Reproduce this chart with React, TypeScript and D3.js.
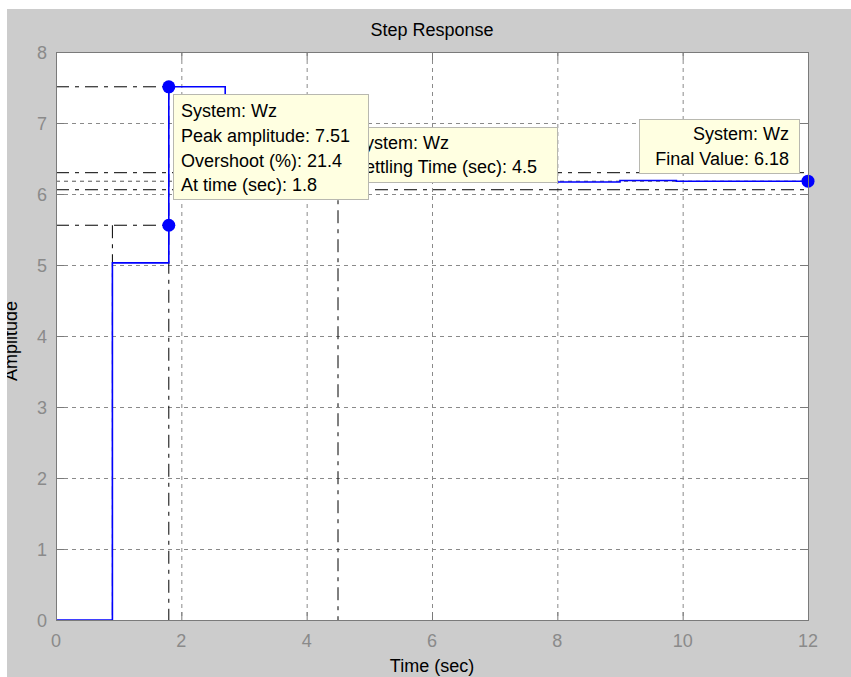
import React from "react";
import * as d3 from "d3";

const stepTimes = [0, 0.9, 1.8, 2.7, 3.6, 4.5, 5.4, 6.3, 7.2, 8.1, 9.0, 9.9, 10.8, 11.7, 12];
const stepValues = [0, 5.03, 7.51, 6.3, 5.95, 6.18, 6.23, 6.18, 6.17, 6.17, 6.19, 6.18, 6.18, 6.18, 6.18];
const xTicks = [0, 2, 4, 6, 8, 10, 12];
const yTicks = [0, 1, 2, 3, 4, 5, 6, 7, 8];

const peakTime = 1.8;
const peakAmp = 7.51;
const riseStart = 0.9;
const riseEnd = 1.8;
const riseLevel = 5.56;
const settleTime = 4.5;
const settleUpper = 6.3;
const settleLower = 6.06;
const finalValue = 6.18;

const peakLines = ["System: Wz", "Peak amplitude: 7.51", "Overshoot (%): 21.4", "At time (sec): 1.8"];
const settleLines = ["System: Wz", "Settling Time (sec): 4.5"];
const finalLines = ["System: Wz", "Final Value: 6.18"];

const W = 851, H = 677;
const L = 56, R = 808, T = 52, B = 620;
const FONT = "'Liberation Sans', Arial, sans-serif";

export default function App() {
  const x = d3.scaleLinear().domain([0, 12]).range([L, R]);
  const y = d3.scaleLinear().domain([0, 8]).range([B, T]);
  const pts: [number, number][] = stepTimes.map((t, i) => [t, stepValues[i]]);
  const line = d3.line<[number, number]>().x(d => x(d[0])).y(d => y(d[1])).curve(d3.curveStepAfter);
  const dashDot = "13,6,4,6";
  const grid = "#8a8a8a";
  const axisCol = "#7a7a7a";

  const tooltip = (lines: string[], rx: number, ry: number, rw: number, rh: number, tx: number, ty0: number, dy: number, anchor: string) => (
    <g>
      <rect x={rx} y={ry} width={rw} height={rh} fill="#ffffe1" stroke="#b8b8b0" strokeWidth={1} />
      {lines.map((s, i) => (
        <text key={i} x={tx} y={ty0 + i * dy} fontSize={18} fontFamily={FONT} fill="#000" textAnchor={anchor}>{s}</text>
      ))}
    </g>
  );

  return (
    <svg width={W} height={H} style={{ position: "absolute", left: 0, top: 0, display: "block" }}>
      <defs>
        <clipPath id="plotClip"><rect x={L} y={T} width={R - L} height={B - T} /></clipPath>
      </defs>
      <rect x={0} y={0} width={W} height={H} fill="#fff" />
      <rect x={7} y={9} width={W - 7} height={H - 9} fill="#cccccc" />
      <rect x={L} y={T} width={R - L} height={B - T} fill="#fff" />

      {/* grid */}
      {xTicks.slice(1, -1).map(t => (
        <line key={"gx" + t} x1={x(t) + 0.5} x2={x(t) + 0.5} y1={T} y2={B} stroke={grid} strokeDasharray="4,4" />
      ))}
      {yTicks.slice(1, -1).map(t => (
        <line key={"gy" + t} x1={L} x2={R} y1={Math.round(y(t)) + 0.5} y2={Math.round(y(t)) + 0.5} stroke={grid} strokeDasharray="4,4" />
      ))}

      <g clipPath="url(#plotClip)">
        {/* characteristic lines */}
        <line x1={L} x2={x(peakTime)} y1={y(peakAmp)} y2={y(peakAmp)} stroke="#000" strokeDasharray={dashDot} />
        <line x1={x(peakTime)} x2={x(peakTime)} y1={y(peakAmp)} y2={B} stroke="#000" strokeDasharray={dashDot} />
        <line x1={L} x2={x(riseEnd)} y1={y(riseLevel)} y2={y(riseLevel)} stroke="#000" strokeDasharray={dashDot} />
        <line x1={x(riseStart)} x2={x(riseStart)} y1={y(riseLevel)} y2={B} stroke="#000" strokeDasharray={dashDot} />
        <line x1={L} x2={R} y1={y(settleUpper)} y2={y(settleUpper)} stroke="#000" strokeDasharray={dashDot} />
        <line x1={L} x2={R} y1={y(settleLower)} y2={y(settleLower)} stroke="#000" strokeDasharray={dashDot} />
        <line x1={L} x2={R} y1={y(finalValue)} y2={y(finalValue)} stroke="#555" strokeDasharray="4,4" />
        <line x1={x(settleTime)} x2={x(settleTime)} y1={y(finalValue)} y2={B} stroke="#000" strokeDasharray={dashDot} />

        {/* response */}
        <path d={line(pts) || ""} fill="none" stroke="#0000ff" strokeWidth={1.6} />
      </g>

      {/* markers */}
      <circle cx={x(peakTime)} cy={y(peakAmp)} r={6.5} fill="#0000ff" />
      <circle cx={x(riseEnd)} cy={y(riseLevel)} r={6.5} fill="#0000ff" />
      <circle cx={x(settleTime)} cy={y(finalValue)} r={6.5} fill="#0000ff" />
      <circle cx={x(12)} cy={y(finalValue)} r={6.5} fill="#0000ff" />

      {/* axes box */}
      <rect x={L + 0.5} y={T + 0.5} width={R - L} height={B - T} fill="none" stroke={axisCol} strokeWidth={1} />
      {xTicks.map(t => (
        <g key={"tx" + t}>
          <line x1={x(t) + 0.5} x2={x(t) + 0.5} y1={B} y2={B - 8} stroke={axisCol} />
          <line x1={x(t) + 0.5} x2={x(t) + 0.5} y1={T} y2={T + 8} stroke={axisCol} />
          <text x={x(t)} y={647} fontSize={18} fontFamily={FONT} fill="#8a8a8a" textAnchor="middle">{t}</text>
        </g>
      ))}
      {yTicks.map(t => (
        <g key={"ty" + t}>
          <line x1={L} x2={L + 8} y1={Math.round(y(t)) + 0.5} y2={Math.round(y(t)) + 0.5} stroke={axisCol} />
          <line x1={R} x2={R - 8} y1={Math.round(y(t)) + 0.5} y2={Math.round(y(t)) + 0.5} stroke={axisCol} />
          <text x={47} y={y(t) + 6.5} fontSize={18} fontFamily={FONT} fill="#8a8a8a" textAnchor="end">{t}</text>
        </g>
      ))}

      {/* tooltips */}
      {tooltip(settleLines, 346.5, 127.5, 211, 55, 353, 149, 24, "start")}
      {tooltip(peakLines, 173.5, 94.5, 195, 105, 181, 117, 24.8, "start")}
      {tooltip(finalLines, 639.5, 119.5, 160, 54, 789, 140, 25, "end")}

      {/* labels */}
      <text x={432} y={36} fontSize={18} fontFamily={FONT} fill="#000" textAnchor="middle">Step Response</text>
      <text x={432} y={672} fontSize={18} fontFamily={FONT} fill="#000" textAnchor="middle">Time (sec)</text>
      <text transform="translate(17,341) rotate(-90)" fontSize={18} fontFamily={FONT} fill="#000" textAnchor="middle">Amplitude</text>
      <rect x={0} y={0} width={7} height={H} fill="#fff" />
    </svg>
  );
}
